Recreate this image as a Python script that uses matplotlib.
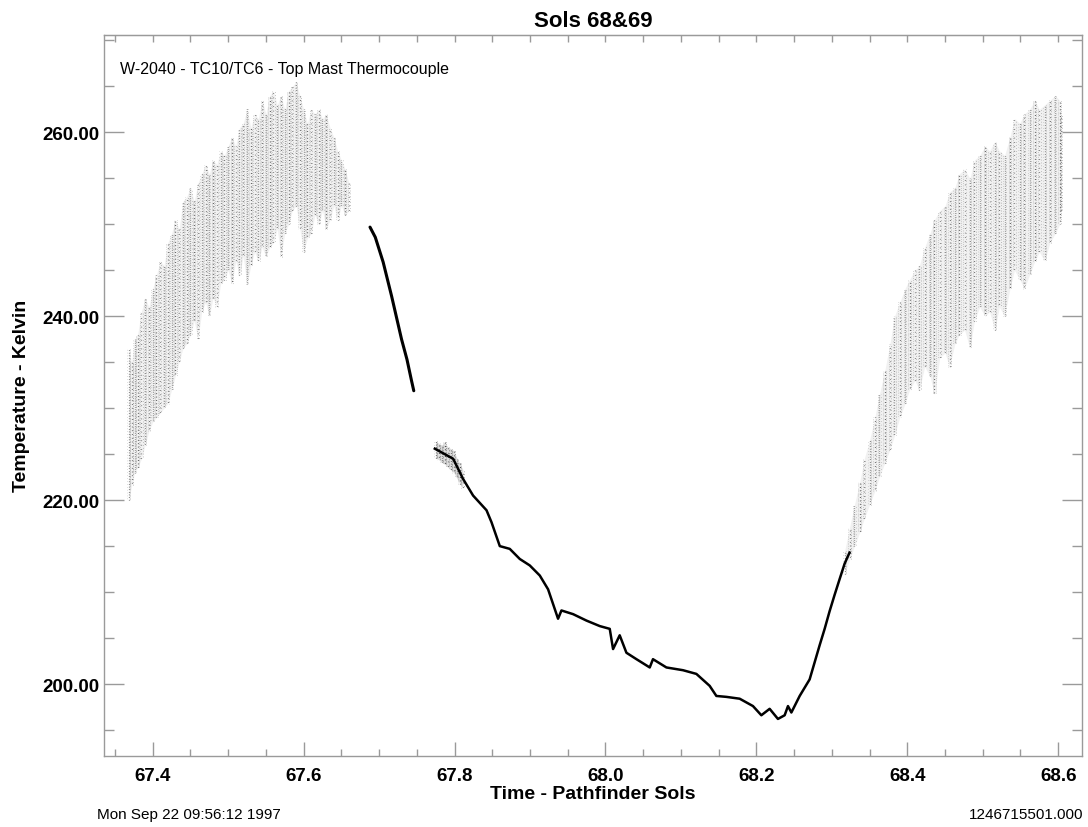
import matplotlib
matplotlib.use("Agg")
import matplotlib.pyplot as plt
from matplotlib.ticker import MultipleLocator, FormatStrFormatter

# ---------------- data ----------------
# Day-time scatter, first sol: time, lower / upper extent of the samples (K)
day1_t = [67.368, 67.372, 67.376, 67.380, 67.385, 67.390, 67.395, 67.400, 67.405, 67.410,
          67.415, 67.420, 67.425, 67.430, 67.435, 67.440, 67.445, 67.450, 67.455, 67.460,
          67.465, 67.470, 67.475, 67.480, 67.485, 67.490, 67.495, 67.500, 67.505, 67.510,
          67.515, 67.520, 67.525, 67.530, 67.535, 67.540, 67.545, 67.550, 67.555, 67.560,
          67.565, 67.570, 67.575, 67.580, 67.585, 67.590, 67.595, 67.600, 67.605, 67.610,
          67.615, 67.620, 67.625, 67.630, 67.635, 67.640, 67.645, 67.650, 67.655, 67.660]
day1_hi = [236.5, 235.0, 237.5, 238.0, 240.5, 242.0, 241.0, 243.0, 244.5, 246.0,
           245.5, 248.0, 249.0, 250.5, 249.5, 252.5, 253.0, 254.0, 252.5, 254.5,
           255.5, 256.5, 255.5, 257.0, 256.5, 258.0, 257.5, 258.5, 259.5, 258.5,
           260.5, 261.0, 262.5, 260.5, 262.0, 261.5, 263.5, 262.0, 264.0, 264.5,
           263.0, 264.0, 262.5, 264.5, 265.0, 265.5, 264.0, 262.5, 261.0, 262.5,
           262.0, 262.5, 261.5, 262.0, 260.5, 259.5, 258.0, 257.0, 256.0, 254.5]
day1_lo = [220.0, 221.5, 223.0, 223.5, 224.5, 226.0, 227.5, 228.5, 229.0, 229.5,
           230.0, 230.5, 232.0, 233.5, 235.0, 236.5, 237.0, 238.0, 239.5, 237.5,
           240.5, 241.5, 240.0, 242.0, 241.0, 243.5, 244.0, 245.0, 243.5, 246.0,
           244.5, 246.5, 243.5, 245.5, 247.0, 246.0, 247.5, 246.5, 247.5, 248.0,
           249.5, 246.5, 249.0, 250.0, 251.5, 252.0, 249.5, 247.0, 248.5, 249.0,
           251.0, 250.0, 251.5, 249.5, 250.5, 252.0, 250.5, 252.0, 251.0, 251.5]

# Evening cooling segment (thin trace)
eve_t = [67.688, 67.695, 67.7054, 67.7166, 67.7298, 67.737, 67.743, 67.746]
eve_T = [249.7, 248.6, 245.9, 242.2, 237.5, 235.3, 233.0, 231.9]

# Night segment (thin trace)
night_t = [67.7739, 67.7982, 67.8114, 67.8246, 67.8424, 67.8490, 67.8600, 67.8732,
           67.8865, 67.8997, 67.9130, 67.9240, 67.9372, 67.9417, 67.9571, 67.9748,
           67.9925, 68.0057, 68.0101, 68.0189, 68.0278, 68.0411, 68.0587, 68.0630,
           68.0808, 68.1028, 68.1205, 68.1381, 68.1470, 68.1603, 68.1779, 68.1955,
           68.2066, 68.2176, 68.2286, 68.2375, 68.2419, 68.2464, 68.2574, 68.2706,
           68.2838, 68.2905, 68.2970, 68.3037, 68.3103, 68.3170, 68.3235]
night_T = [225.6, 224.5, 222.3, 220.5, 218.9, 217.6, 215.0, 214.7,
           213.6, 212.9, 211.8, 210.3, 207.1, 208.0, 207.6, 206.9,
           206.3, 206.0, 203.8, 205.3, 203.4, 202.7, 201.8, 202.7,
           201.8, 201.5, 201.1, 199.8, 198.7, 198.6, 198.4, 197.6,
           196.6, 197.3, 196.2, 196.6, 197.6, 196.9, 198.7, 200.5,
           204.2, 206.0, 207.9, 209.7, 211.4, 213.1, 214.3]

# Early-night speckled band: time, lower / upper extent (K)
band_t = [67.775, 67.779, 67.783, 67.787, 67.791, 67.795, 67.799, 67.803, 67.807, 67.811]
band_lo = [224.6, 224.4, 224.1, 223.9, 223.6, 223.3, 223.0, 222.4, 221.8, 221.3]
band_hi = [226.4, 226.2, 226.0, 226.3, 225.8, 225.6, 225.4, 224.6, 224.0, 223.3]

# Day-time scatter, second sol
day2_t = [68.317, 68.3235, 68.330, 68.337, 68.343, 68.350, 68.357, 68.363, 68.370, 68.377,
          68.383, 68.390, 68.397, 68.403, 68.410, 68.416, 68.423, 68.430, 68.436, 68.443,
          68.450, 68.456, 68.463, 68.469, 68.476, 68.483, 68.489, 68.496, 68.503, 68.509,
          68.516, 68.522, 68.529, 68.536, 68.542, 68.549, 68.555, 68.562, 68.569, 68.575,
          68.582, 68.589, 68.596, 68.602, 68.604]
day2_hi = [214.5, 217.0, 219.5, 222.0, 224.5, 226.5, 229.0, 231.5, 234.0, 237.0,
           240.0, 241.5, 243.0, 244.0, 245.0, 245.5, 247.5, 249.0, 250.5, 251.5,
           252.0, 253.5, 254.0, 255.5, 256.0, 255.0, 257.0, 257.5, 258.5, 258.0,
           259.0, 258.0, 257.5, 259.5, 261.5, 261.0, 262.0, 262.5, 263.5, 262.5,
           263.0, 263.5, 264.0, 263.5, 262.0]
day2_lo = [212.0, 213.5, 215.0, 216.5, 218.0, 219.5, 221.0, 222.5, 224.0, 225.5,
           227.0, 229.0, 230.5, 232.0, 233.0, 232.0, 234.5, 233.5, 231.5, 235.5,
           236.0, 234.5, 237.0, 238.0, 238.5, 236.5, 239.5, 241.0, 240.0, 240.5,
           238.5, 241.0, 240.0, 243.0, 245.0, 244.0, 243.0, 244.5, 246.0, 247.0,
           246.0, 248.0, 249.0, 250.0, 251.5]

title = "Sols 68&69"
inner_label = "W-2040 - TC10/TC6 - Top Mast Thermocouple"
xlabel = "Time - Pathfinder Sols"
ylabel = "Temperature - Kelvin"
footer_left = "Mon Sep 22 09:56:12 1997"
footer_right = "1246715501.000"

# ---------------- figure ----------------
plt.rcParams['font.family'] = ['Liberation Sans', 'DejaVu Sans']
fig = plt.figure(figsize=(10.88, 8.28), dpi=100)
ax = fig.add_axes([0.0956, 0.0861, 0.8992, 0.8710])

patterns = [(0.5, 1.6), (0.6, 2.4), (0.4, 1.1), (0.7, 2.0), (0.5, 3.0)]

def streaks(t, lo, hi, dark='#2e2e2e', light='#6a6a6a', fill='#f1f1f1'):
    ax.fill_between(t, lo, hi, color=fill, linewidth=0, zorder=1)
    offsets = [0.0, 0.0016, -0.0018]
    colors = [dark, light, '#555555']
    alphas = [0.8, 0.6, 0.5]
    widths = [0.9, 0.7, 0.6]
    for k in range(3):
        ls = [((i * 0.7 + k * 0.9), patterns[(i + 2 * k) % len(patterns)]) for i in range(len(t))]
        ax.vlines([v + offsets[k] for v in t], lo, hi, colors=colors[k],
                  linewidth=widths[k], linestyles=ls, alpha=alphas[k], zorder=2)

streaks(day1_t, day1_lo, day1_hi)
streaks(day2_t, day2_lo, day2_hi)
streaks(band_t, band_lo, band_hi, dark='#111111', light='#333333', fill='#dddddd')

ax.plot(eve_t, eve_T, color='black', linewidth=2.2, solid_capstyle='round', zorder=3)
ax.plot(night_t, night_T, color='black', linewidth=1.8, solid_joinstyle='round', zorder=3)

ax.set_xlim(67.3355, 68.632)
ax.set_ylim(192.2, 270.65)

ax.xaxis.set_major_locator(MultipleLocator(0.2))
ax.xaxis.set_minor_locator(MultipleLocator(0.05))
ax.yaxis.set_major_locator(MultipleLocator(20))
ax.yaxis.set_minor_locator(MultipleLocator(5))
ax.xaxis.set_major_formatter(FormatStrFormatter('%.1f'))
ax.yaxis.set_major_formatter(FormatStrFormatter('%.2f'))

axc = '#9a9a9a'
for s in ax.spines.values():
    s.set_color(axc)
    s.set_linewidth(1.0)

ax.tick_params(axis='x', which='major', direction='in', length=10, width=1, color=axc,
               top=False, labelsize=13.5, pad=8)
ax.tick_params(axis='x', which='minor', direction='in', length=5, width=1, color=axc, top=False)
ax.tick_params(axis='y', which='major', direction='in', length=14.4, width=1, color=axc,
               right=True, labelsize=13.5, pad=3)
ax.tick_params(axis='y', which='minor', direction='in', length=7.5, width=1, color=axc, right=True)
for lab in ax.get_xticklabels() + ax.get_yticklabels():
    lab.set_fontweight('bold')

sec = ax.secondary_xaxis('top')
sec.xaxis.set_major_locator(MultipleLocator(0.05))
sec.tick_params(axis='x', which='both', direction='in', length=5, width=1, color=axc,
                labeltop=False)
sec.spines['top'].set_color(axc)

ax.set_title(title, fontsize=16, fontweight='bold', pad=6)
ax.set_xlabel(xlabel, fontsize=14, fontweight='bold', labelpad=1)
ax.set_ylabel(ylabel, fontsize=14, fontweight='bold', labelpad=9)
ax.text(0.016, 0.953, inner_label, transform=ax.transAxes, fontsize=11.5, va='center', ha='left')

fig.text(97 / 1088, 1 - 815 / 828, footer_left, fontsize=11, ha='left', va='center')
fig.text(1083 / 1088, 1 - 815 / 828, footer_right, fontsize=11, ha='right', va='center')

fig.savefig('out.png', dpi=100)
